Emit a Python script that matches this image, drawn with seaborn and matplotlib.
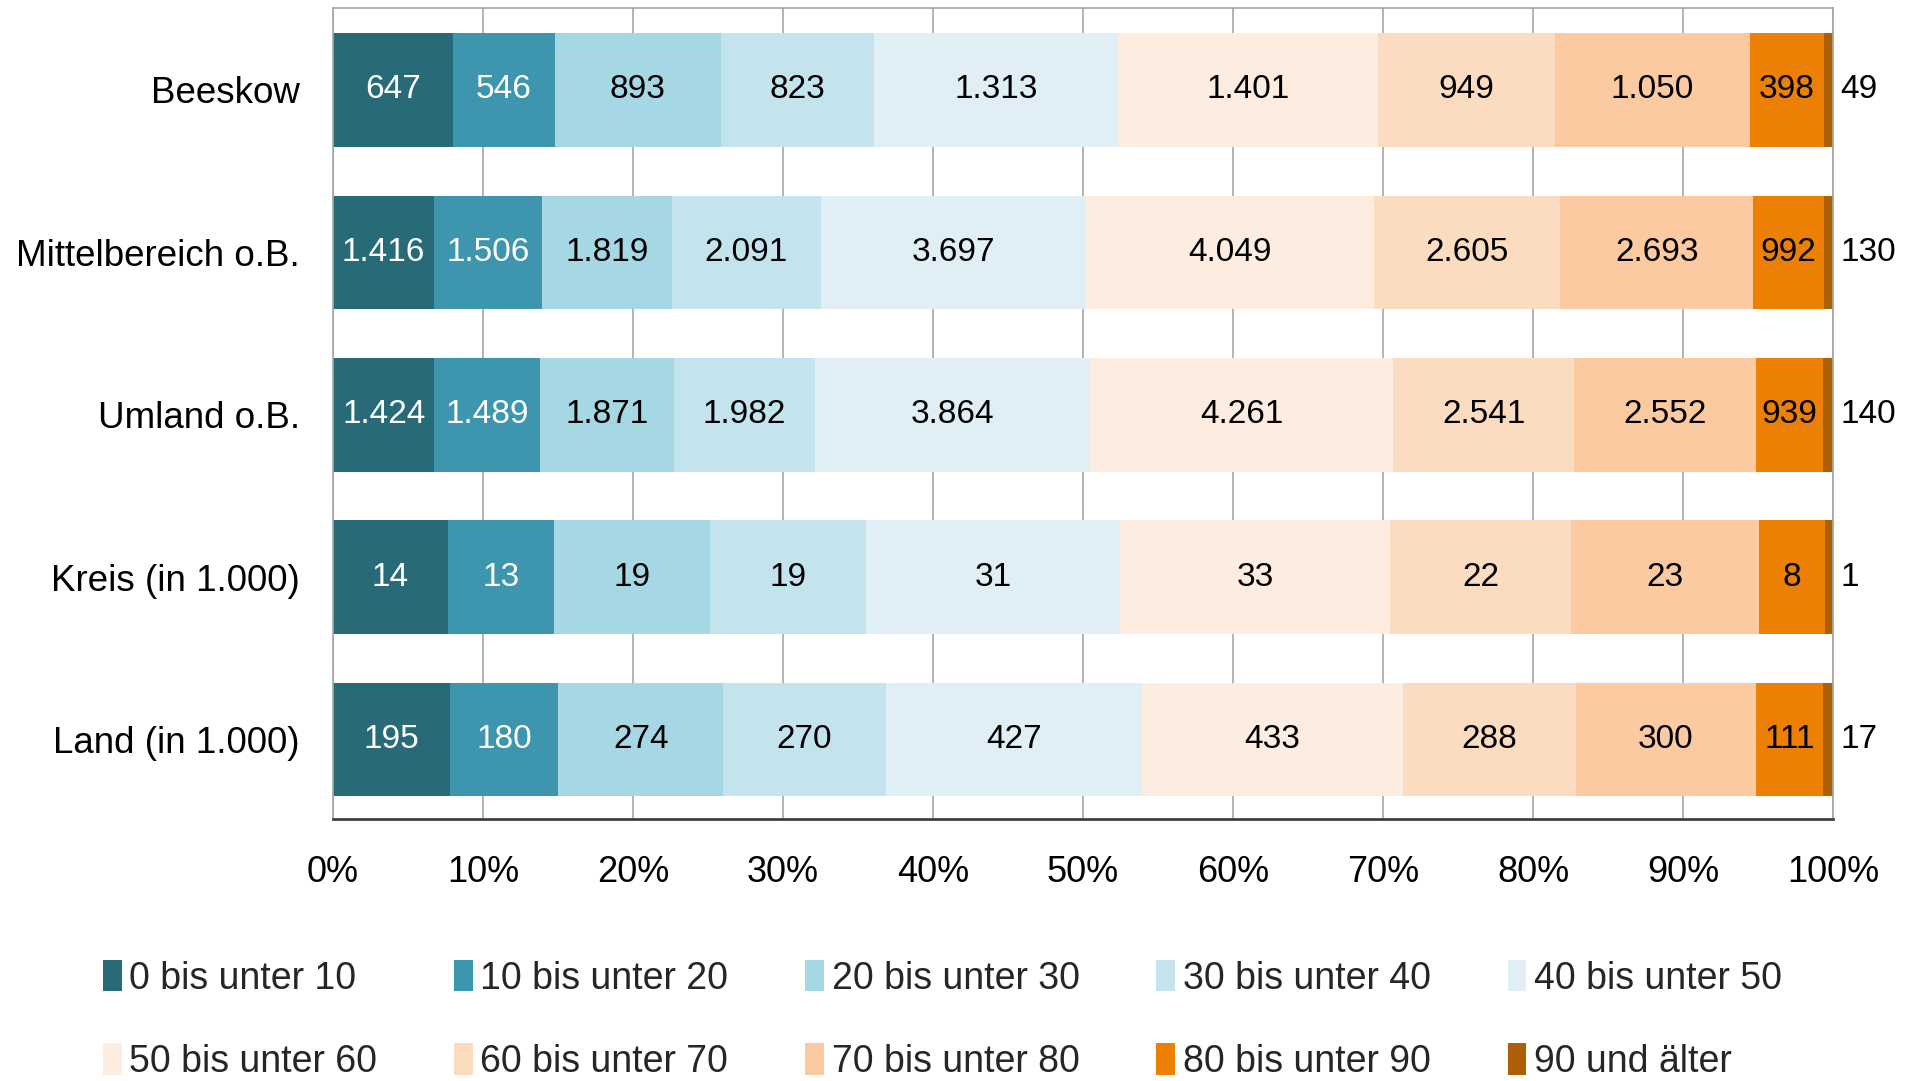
import numpy as np
import pandas as pd
import matplotlib
matplotlib.use("Agg")
import matplotlib.pyplot as plt
import seaborn as sns

categories = ["Beeskow", "Mittelbereich o.B.", "Umland o.B.", "Kreis (in 1.000)", "Land (in 1.000)"]
groups = ["0 bis unter 10", "10 bis unter 20", "20 bis unter 30", "30 bis unter 40", "40 bis unter 50",
          "50 bis unter 60", "60 bis unter 70", "70 bis unter 80", "80 bis unter 90", "90 und älter"]
beeskow = [647, 546, 893, 823, 1313, 1401, 949, 1050, 398, 49]
mittelbereich = [1416, 1506, 1819, 2091, 3697, 4049, 2605, 2693, 992, 130]
umland = [1424, 1489, 1871, 1982, 3864, 4261, 2541, 2552, 939, 140]
kreis = [14, 13, 19, 19, 31, 33, 22, 23, 8, 1]
land = [195, 180, 274, 270, 427, 433, 288, 300, 111, 17]
colors = ["#296a78", "#3d96ad", "#a5d7e4", "#c3e4ed", "#e0eff6",
          "#fdece0", "#fcdcc0", "#fbcaa0", "#eb8004", "#ad5f06"]
text_colors = ["white", "white"] + ["black"] * 8
xtick_labels = ["0%", "10%", "20%", "30%", "40%", "50%", "60%", "70%", "80%", "90%", "100%"]

sns.set_theme(style="white")
plt.rcParams["font.family"] = ["Liberation Sans", "DejaVu Sans"]

vals = np.array([beeskow, mittelbereich, umland, kreis, land], dtype=float)
pct = vals / vals.sum(axis=1, keepdims=True) * 100
cum = np.cumsum(pct, axis=1)

fig = plt.figure(figsize=(19.14, 10.81), dpi=100)
ax = fig.add_axes([333 / 1914, 1 - 819 / 1081, (1833 - 333) / 1914, (819 - 8) / 1081])

for j in range(len(groups) - 1, -1, -1):
    df = pd.DataFrame({"cat": categories, "cum": cum[:, j]})
    sns.barplot(data=df, x="cum", y="cat", orient="h", color=colors[j], width=0.7,
                saturation=1, linewidth=0, ax=ax, label=groups[j], zorder=2)

def fmt(v):
    return f"{int(v):,}".replace(",", ".")

for i in range(len(categories)):
    for j in range(len(groups)):
        start = cum[i, j] - pct[i, j]
        if j == len(groups) - 1:
            ax.text(100.5, i, fmt(vals[i, j]), ha="left", va="center", fontsize=24,
                    color="black", clip_on=False)
        else:
            ax.text(start + pct[i, j] / 2, i, fmt(vals[i, j]), ha="center", va="center",
                    fontsize=24, color=text_colors[j], zorder=3)

ax.set_xlim(0, 100)
ax.set_ylim(4.49, -0.505)
ax.set_xticks(np.arange(0, 101, 10))
ax.set_xticklabels(xtick_labels, fontsize=26)
ax.tick_params(axis="x", length=0, pad=26)
ax.tick_params(axis="y", length=0, pad=24, labelsize=26.5)
ax.set_xlabel("")
ax.set_ylabel("")
ax.set_axisbelow(True)
ax.xaxis.grid(True, color="#a6a6a6", linewidth=1.2)
ax.yaxis.grid(False)
for s in ["top", "right", "left"]:
    ax.spines[s].set_color("#a6a6a6")
    ax.spines[s].set_linewidth(1.2)
ax.spines["bottom"].set_color("#404040")
ax.spines["bottom"].set_linewidth(2)
for t in ax.get_xticklabels() + ax.get_yticklabels():
    t.set_color("black")

handles, labels = ax.get_legend_handles_labels()
lookup = dict(zip(labels, handles))
order = [0, 5, 1, 6, 2, 7, 3, 8, 4, 9]
leg = fig.legend([lookup[groups[k]] for k in order], [groups[k] for k in order],
                 ncol=5, loc="center left", bbox_to_anchor=(103 / 1914, 1 - 1020 / 1081),
                 frameon=False, fontsize=27, handlelength=0.5, handleheight=0.9,
                 handletextpad=0.2, columnspacing=2.05, labelspacing=1.25,
                 borderpad=0, borderaxespad=0)
if ax.legend_:
    ax.legend_.remove()

fig.savefig("out.png", dpi=100)
